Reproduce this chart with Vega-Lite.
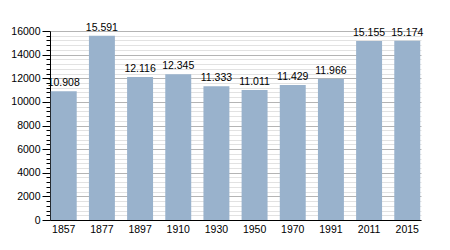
{
  "$schema": "https://vega.github.io/schema/vega-lite/v6.json",
  "width": 371,
  "height": 189,
  "autosize": "none",
  "padding": {"left": 50, "top": 31, "right": 29, "bottom": 30},
  "config": {
    "locale": {"number": {"decimal": ",", "thousands": ".", "grouping": [3], "currency": ["", ""]}},
    "view": {"stroke": null},
    "font": "Liberation Sans"
  },
  "data": {
    "values": [
      {"year": "1857", "pop": 10908},
      {"year": "1877", "pop": 15591},
      {"year": "1897", "pop": 12116},
      {"year": "1910", "pop": 12345},
      {"year": "1930", "pop": 11333},
      {"year": "1950", "pop": 11011},
      {"year": "1970", "pop": 11429},
      {"year": "1991", "pop": 11966},
      {"year": "2011", "pop": 15155},
      {"year": "2015", "pop": 15174}
    ]
  },
  "encoding": {
    "x": {
      "field": "year", "type": "ordinal", "sort": null,
      "scale": {"paddingInner": 0.32, "paddingOuter": 0.02},
      "axis": {"title": null, "labelAngle": 0, "ticks": false, "domainColor": "#000", "labelFontSize": 10.5, "labelColor": "#000", "labelPadding": 4}
    },
    "y": {
      "field": "pop", "type": "quantitative",
      "scale": {"domain": [0, 16000], "nice": false},
      "axis": {
        "title": null,
        "values": [0,400,800,1200,1600,2000,2400,2800,3200,3600,4000,4400,4800,5200,5600,6000,6400,6800,7200,7600,8000,8400,8800,9200,9600,10000,10400,10800,11200,11600,12000,12400,12800,13200,13600,14000,14400,14800,15200,15600,16000],
        "format": "d",
        "labelExpr": "datum.value % 2000 === 0 ? datum.label : ''",
        "grid": true,
        "gridColor": {"condition": {"test": "datum.value % 2000 === 0", "value": "#b4b4b4"}, "value": "#e2e2e2"},
        "tickColor": "#000",
        "tickSize": {"condition": {"test": "datum.value % 2000 === 0", "value": 8}, "value": 4},
        "domainColor": "#000",
        "labelFontSize": 10.5,
        "labelColor": "#000",
        "labelPadding": 2
      }
    }
  },
  "layer": [
    {"mark": {"type": "bar", "color": "#99b2cc"}},
    {
      "mark": {"type": "text", "baseline": "alphabetic", "dy": -5, "fontSize": 10.5, "color": "#000"},
      "encoding": {"text": {"field": "pop", "type": "quantitative", "format": ",d"}}
    }
  ]
}
